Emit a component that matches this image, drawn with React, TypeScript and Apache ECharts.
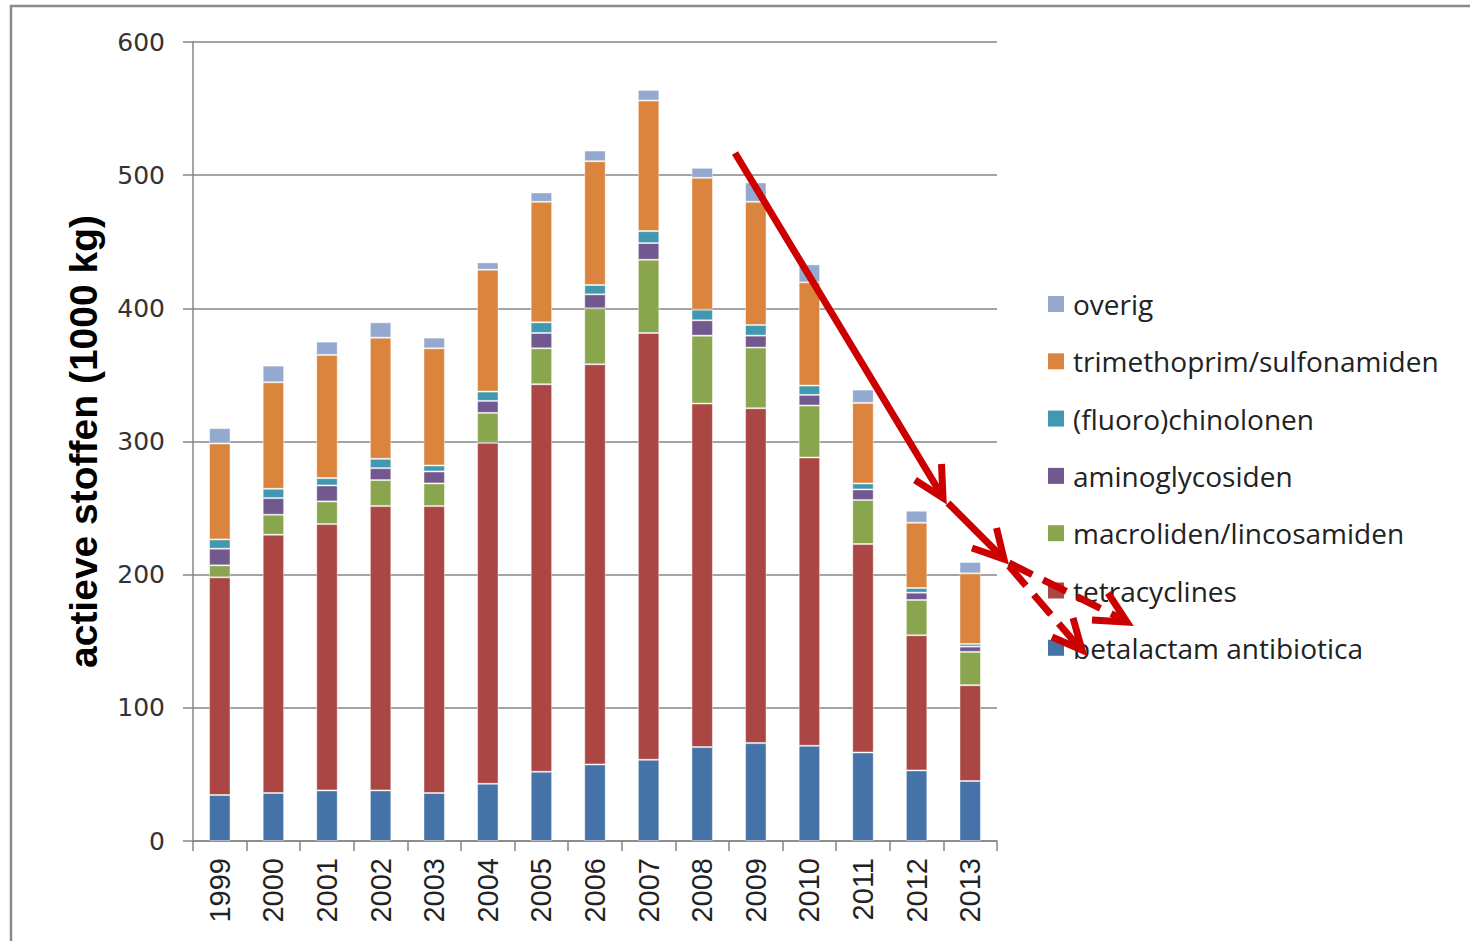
import React, { useEffect, useRef } from 'react';
import * as echarts from 'echarts';

const years = ['1999', '2000', '2001', '2002', '2003', '2004', '2005', '2006', '2007', '2008', '2009', '2010', '2011', '2012', '2013'];

const betalactam = [34.5, 36, 38, 38, 36, 43, 52, 57.5, 61, 70.5, 73.5, 71.5, 66.5, 53, 45];
const tetracyclines = [163.5, 194, 200, 213.5, 215.5, 256, 291, 300.5, 320.5, 258, 251.5, 216.5, 156.5, 101.5, 72];
const macroliden = [9, 15, 17, 19.5, 17, 22.5, 27, 42, 55, 51, 45.5, 39, 33, 26.5, 25];
const aminoglycosiden = [12.5, 12.5, 12, 9, 9, 9, 11.5, 10.5, 12.5, 11.5, 9, 8, 8, 5.5, 4];
const fluorochinolonen = [7, 7, 5.5, 7, 4.5, 7, 8, 7, 9, 8, 8, 7, 4.5, 3.5, 2];
const trimethoprim = [72, 80, 92.5, 91, 88, 91.5, 90.5, 93, 98, 99, 92.5, 77.5, 60.5, 49, 53];
const overig = [11.5, 12.5, 10, 11.5, 8, 5.5, 7, 8, 8, 7.5, 14.5, 13.5, 10, 9, 8.5];

const seriesNames = [
  'betalactam antibiotica',
  'tetracyclines',
  'macroliden/lincosamiden',
  'aminoglycosiden',
  '(fluoro)chinolonen',
  'trimethoprim/sulfonamiden',
  'overig',
];
const seriesData = [betalactam, tetracyclines, macroliden, aminoglycosiden, fluorochinolonen, trimethoprim, overig];
const seriesColors = ['#4572A7', '#AA4643', '#89A54E', '#71588F', '#4198AF', '#DB843D', '#93A9CF'];

const yAxisTitle = 'actieve stoffen (1000 kg)';

export default function App() {
  const ref = useRef<HTMLDivElement>(null);

  useEffect(() => {
    const chart = echarts.init(ref.current as HTMLDivElement, null, { renderer: 'svg' });
    const red = '#CC0000';
    const seg = (a: number[], b: number[], dash?: number[]) => ({
      type: 'line',
      z: 100,
      shape: { x1: a[0], y1: a[1], x2: b[0], y2: b[1] },
      style: { stroke: red, lineWidth: 7, lineDash: dash, lineCap: 'butt' },
    });
    const head = (w1: number[], tip: number[], w2: number[]) => ({
      type: 'polyline',
      z: 100,
      shape: { points: [w1, tip, w2] },
      style: { stroke: red, lineWidth: 7, fill: 'none', lineJoin: 'miter' },
    });

    chart.setOption({
      animation: false,
      backgroundColor: '#ffffff',
      grid: { left: 193, top: 42, right: 473, bottom: 100, containLabel: false },
      legend: {
        data: seriesNames.slice().reverse(),
        orient: 'vertical',
        left: 1043,
        top: 284,
        itemWidth: 16,
        itemHeight: 16,
        itemGap: 27.3,
        icon: 'rect',
        selectedMode: false,
        itemStyle: { borderWidth: 0 },
        textStyle: {
          fontFamily: 'Open Sans',
          fontSize: 28,
          color: '#222222',
          lineHeight: 30,
          padding: [0, 0, 0, 4],
        },
      },
      xAxis: {
        type: 'category',
        data: years,
        axisLine: { lineStyle: { color: '#868686', width: 1.5 } },
        axisTick: { show: true, length: 10, alignWithLabel: false, lineStyle: { color: '#868686', width: 1.5 } },
        axisLabel: {
          rotate: 90,
          margin: 17,
          fontFamily: 'Liberation Sans',
          fontSize: 29,
          color: '#222222',
        },
      },
      yAxis: {
        type: 'value',
        min: 0,
        max: 600,
        interval: 100,
        name: yAxisTitle,
        nameLocation: 'middle',
        nameRotate: 90,
        nameGap: 90,
        nameTextStyle: {
          fontFamily: 'Liberation Sans',
          fontWeight: 'bold',
          fontSize: 39,
          color: '#000000',
        },
        axisLine: { show: true, lineStyle: { color: '#868686', width: 1.5 } },
        axisTick: { show: true, length: 10, lineStyle: { color: '#868686', width: 1.5 } },
        axisLabel: {
          margin: 28,
          fontFamily: 'DejaVu Sans',
          fontSize: 25,
          color: '#333333',
        },
        splitLine: { show: true, lineStyle: { color: '#868686', width: 1.5 } },
      },
      series: seriesNames.map((name, i) => ({
        name,
        type: 'bar',
        stack: 'total',
        data: seriesData[i],
        barWidth: '40%',
        itemStyle: {
          color: seriesColors[i],
          borderColor: 'rgba(255,255,255,0.45)',
          borderWidth: 1,
        },
      })),
      graphic: [
        {
          type: 'polyline',
          z: 90,
          shape: { points: [[11, 941], [11, 6], [1470, 6]] },
          style: { stroke: '#8a8a8a', lineWidth: 2.5, fill: 'none' },
        },
        seg([735, 153], [941, 494]),
        head([915, 480], [943, 498], [941.5, 464]),
        seg([948, 503], [1000, 555]),
        head([972, 548], [1004, 559], [996.5, 528]),
        seg([1009, 563], [1122, 619], [26, 12]),
        head([1092, 620], [1127, 622], [1108, 593]),
        seg([1009, 566], [1078, 646], [26, 12]),
        head([1052, 637], [1082, 650], [1073, 618]),
      ],
    });

    return () => {
      chart.dispose();
    };
  }, []);

  return (
    <div
      ref={ref}
      style={{ position: 'fixed', left: 0, top: 0, width: 1470, height: 941, background: '#ffffff' }}
    />
  );
}
